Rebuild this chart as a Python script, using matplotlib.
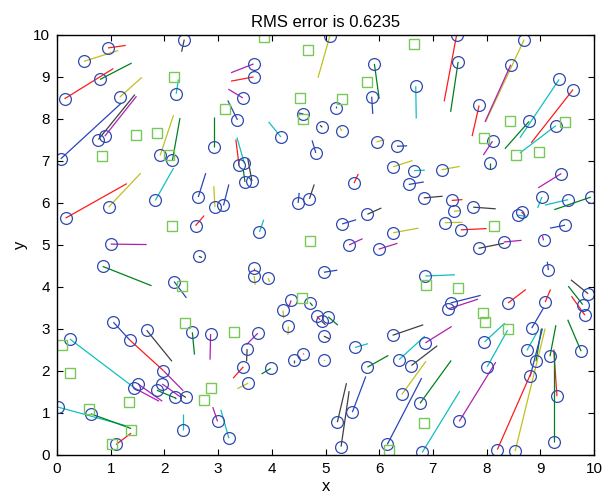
import matplotlib
matplotlib.use("Agg")
import matplotlib.pyplot as plt

plt.rcParams['font.family'] = ['Liberation Sans', 'DejaVu Sans']

# circle positions (data points) and line end points with colour codes
circle_x = [0.95, 0.50, 0.80, 0.14, 1.17, 0.07, 0.77, 0.89, 2.22, 1.92, 2.15, 2.37, 5.08, 3.66, 3.66, 3.46,
            3.36, 4.17, 4.59, 4.94, 2.93, 4.82, 3.39, 3.49, 3.63, 3.50, 5.91, 5.86, 6.68, 5.20, 5.30, 5.95,
            6.33, 6.26, 6.65, 7.16, 7.44, 7.47, 8.70, 8.45, 9.35, 9.61, 7.86, 8.79, 9.29, 8.11, 8.06,
            0.16, 0.96, 1.83, 1.00, 0.85, 2.18, 2.63, 2.94, 3.10, 2.58, 3.77, 4.49, 4.70, 2.64, 3.67,
            3.67, 3.93, 4.36, 4.71, 4.21, 5.53, 6.55, 6.83, 7.35, 7.39, 5.78, 5.31, 7.22, 6.26, 5.44,
            5.99, 4.97, 6.86, 7.33, 7.29, 9.39, 9.03, 9.52, 9.94, 7.75, 8.58, 8.65, 7.52, 9.46, 8.32,
            7.85, 9.06, 9.15, 9.89, 9.79, 9.83, 8.40, 9.09, 1.05, 1.36, 1.67, 0.24, 1.98, 1.43, 1.51,
            1.86, 1.96, 2.20, 2.40, 0.02, 0.63, 1.10, 2.35, 2.52, 2.86, 3.74, 3.54, 3.47, 3.98, 3.56,
            2.99, 3.20, 4.31, 4.42, 4.59, 4.84, 4.93, 4.97, 4.97, 5.05, 6.25, 5.55, 6.86, 6.37, 6.60,
            5.78, 6.42, 6.76, 5.50, 5.22, 5.29, 6.15, 6.80, 7.49, 7.96, 8.01, 8.84, 8.75, 8.92, 8.81,
            9.18, 9.76, 9.31, 9.25, 8.20, 8.53]
circle_y = [9.69, 9.37, 8.94, 8.48, 8.52, 7.05, 7.51, 7.59, 8.60, 7.13, 7.02, 9.89, 9.97, 9.31, 9.00, 8.50,
            7.98, 7.57, 8.12, 7.80, 7.33, 7.19, 6.90, 6.94, 6.52, 6.50, 9.31, 8.53, 8.78, 8.25, 7.71, 7.45,
            7.35, 6.86, 6.77, 6.79, 9.99, 9.36, 9.89, 9.29, 8.94, 8.70, 8.32, 7.94, 7.84, 7.47, 6.94,
            5.64, 5.90, 6.06, 5.02, 4.49, 4.13, 6.14, 5.90, 5.94, 5.46, 5.31, 6.00, 6.10, 4.73, 4.45,
            4.27, 4.21, 3.68, 3.63, 3.44, 6.47, 6.44, 6.12, 6.06, 5.80, 5.73, 5.50, 5.53, 5.29, 5.00,
            4.90, 4.35, 4.26, 3.62, 3.48, 6.70, 6.14, 6.08, 6.14, 5.90, 5.71, 5.78, 5.36, 5.47, 5.07,
            4.92, 5.11, 4.40, 3.84, 3.58, 3.33, 3.62, 3.64, 3.16, 2.73, 2.97, 2.76, 2.01, 1.60, 1.69,
            1.54, 1.69, 1.37, 1.37, 1.14, 0.98, 0.25, 0.60, 2.92, 2.88, 2.90, 2.52, 2.10, 2.06, 1.71,
            0.80, 0.40, 3.06, 2.27, 2.41, 3.30, 3.18, 2.83, 2.26, 3.29, 2.85, 2.56, 2.67, 2.27, 2.13,
            2.09, 1.44, 1.23, 1.02, 0.78, 0.20, 0.25, 0.06, 0.80, 2.69, 2.10, 3.02, 2.49, 2.23, 1.87,
            2.35, 2.47, 1.40, 0.31, 0.13, 0.09]
end_x = [1.28, 1.14, 1.39, 1.05, 1.58, 1.20, 1.45, 1.48, 2.26, 2.17, 2.29, 2.32, 4.86, 3.24, 3.24, 3.19,
         3.18, 3.94, 4.50, 4.90, 2.93, 4.75, 3.33, 3.35, 3.55, 3.47, 6.00, 5.88, 6.69, 5.20, 5.27, 6.10,
         6.52, 6.62, 6.85, 7.50, 7.21, 7.33, 7.98, 7.97, 8.62, 8.83, 7.73, 8.34, 8.62, 7.94, 8.06,
         1.30, 1.56, 2.17, 1.67, 1.76, 2.41, 2.77, 2.92, 3.20, 2.74, 3.85, 4.51, 4.79, 2.70, 3.67,
         3.69, 3.96, 4.31, 4.76, 4.22, 5.61, 6.83, 7.18, 7.55, 7.52, 6.04, 5.57, 7.55, 6.73, 5.69,
         6.34, 5.22, 7.41, 7.89, 7.84, 8.96, 8.95, 9.09, 9.26, 8.17, 8.75, 8.72, 8.00, 9.18, 8.65,
         8.32, 9.04, 9.13, 9.57, 9.52, 9.58, 8.73, 9.19, 1.36, 1.98, 2.14, 1.44, 2.35, 1.90, 1.96,
         2.20, 2.30, 2.22, 2.30, 1.33, 1.38, 1.38, 2.35, 2.56, 2.85, 3.53, 3.53, 3.28, 3.81, 3.36,
         2.90, 3.05, 4.30, 4.42, 4.59, 4.90, 5.00, 5.08, 4.99, 5.23, 6.82, 5.79, 7.35, 6.85, 7.08,
         6.17, 6.87, 7.34, 5.75, 5.39, 5.44, 6.79, 7.50, 8.17, 8.34, 8.39, 9.06, 8.93, 9.02, 9.04,
         9.29, 9.51, 9.25, 9.25, 8.84, 9.09]
end_y = [9.75, 9.63, 9.33, 9.20, 8.99, 8.38, 8.58, 8.54, 8.94, 8.09, 8.02, 9.60, 8.98, 9.10, 8.90, 8.71,
         8.44, 7.93, 8.14, 7.85, 8.04, 7.49, 7.51, 7.56, 7.07, 6.79, 8.48, 8.12, 8.01, 8.30, 7.80, 7.51,
         7.36, 7.01, 6.78, 6.87, 8.42, 8.17, 7.93, 7.93, 7.55, 7.43, 7.59, 7.29, 7.19, 7.14, 6.82,
         6.46, 6.71, 6.83, 5.01, 4.03, 3.74, 6.71, 6.40, 6.44, 5.70, 5.60, 6.24, 6.44, 4.70, 4.40,
         4.05, 4.12, 3.50, 3.55, 3.25, 6.69, 6.50, 6.16, 6.08, 5.82, 5.88, 5.60, 5.54, 5.40, 5.15,
         5.04, 4.40, 4.29, 3.80, 3.71, 6.36, 5.88, 5.95, 5.84, 5.86, 5.68, 5.70, 5.39, 5.40, 5.11,
         5.04, 5.22, 4.60, 4.17, 4.02, 3.78, 3.94, 3.94, 2.73, 2.01, 2.23, 1.60, 1.53, 1.28, 1.28,
         1.36, 1.38, 1.33, 1.45, 0.68, 0.63, 0.52, 0.98, 2.39, 2.27, 2.63, 2.23, 1.83, 1.93, 1.58,
         1.14, 1.08, 2.86, 2.20, 2.43, 3.22, 3.10, 2.76, 2.24, 3.09, 3.10, 2.65, 3.06, 2.83, 2.60,
         2.37, 2.23, 2.25, 1.87, 1.71, 1.52, 1.83, 1.52, 2.21, 3.14, 2.97, 3.50, 2.90, 3.01, 3.01,
         3.09, 3.22, 2.51, 2.47, 1.99, 3.01]
line_codes = ['r', 'y', 'g', 'r', 'y', 'b', 'k', 'm', 'c', 'y', 'g', 'k', 'y', 'm', 'r', 'm',
              'b', 'c', 'b', 'k', 'g', 'b', 'r', 'c', 'k', 'g', 'g', 'b', 'c', 'b', 'y', 'y',
              'b', 'y', 'c', 'y', 'r', 'g', 'y', 'm', 'c', 'r', 'r', 'g', 'c', 'm', 'g',
              'r', 'y', 'c', 'm', 'g', 'b', 'b', 'y', 'b', 'r', 'c', 'b', 'k', 'k', 'r',
              'y', 'y', 'm', 'g', 'y', 'r', 'b', 'k', 'r', 'y', 'k', 'b', 'y', 'y', 'm',
              'm', 'b', 'c', 'b', 'm', 'm', 'c', 'c', 'g', 'k', 'c', 'r', 'r', 'b', 'm',
              'k', 'm', 'b', 'k', 'g', 'r', 'r', 'r', 'b', 'r', 'k', 'c', 'm', 'm', 'm',
              'g', 'm', 'k', 'k', 'c', 'g', 'r', 'c', 'g', 'm', 'm', 'k', 'r', 'g', 'y',
              'm', 'c', 'y', 'k', 'r', 'r', 'k', 'k', 'y', 'g', 'k', 'c', 'm', 'c', 'k',
              'g', 'y', 'g', 'b', 'k', 'k', 'b', 'c', 'm', 'c', 'c', 'b', 'c', 'g', 'b',
              'g', 'g', 'r', 'g', 'r', 'y']

square_x = [1.47, 1.87, 0.83, 2.17, 2.09, 3.86, 4.67, 3.12, 4.53, 4.59, 6.64, 5.78, 5.31, 8.44, 9.46,
            7.96, 8.54, 8.98, 2.15, 2.32, 4.72, 4.57, 6.87, 7.46, 8.14, 0.09, 0.25, 2.38, 1.35, 0.60,
            1.38, 1.02, 3.29, 2.87, 2.74, 6.18, 6.84, 7.94, 7.97, 8.39]
square_y = [7.61, 7.67, 7.11, 8.99, 7.15, 9.94, 9.63, 8.24, 8.49, 8.01, 9.79, 8.88, 8.48, 7.94, 7.92,
            7.55, 7.14, 7.21, 5.44, 4.02, 5.09, 3.74, 4.05, 3.98, 5.44, 2.61, 1.95, 3.14, 1.26, 1.10,
            0.60, 0.26, 2.92, 1.60, 1.32, 0.13, 0.76, 3.38, 3.17, 2.99]

title_text = "RMS error is 0.6235"
ticks = list(range(0, 11))

color_map = {'b': '#2a45b8', 'g': '#008020', 'r': '#ff1a1a', 'c': '#10c0c0',
             'm': '#b020b0', 'y': '#c0c020', 'k': '#404040'}

fig = plt.figure(figsize=(6.09, 4.99), dpi=100)
ax = fig.add_axes([0.0936, 0.0882, 0.8818, 0.8418])

for cx, cy, ex, ey, c in zip(circle_x, circle_y, end_x, end_y, line_codes):
    ax.plot([cx, ex], [cy, ey], color=color_map[c], lw=0.9, solid_capstyle='butt')

ax.plot(circle_x, circle_y, 'o', ms=8.5, mfc='none', mec='#3049b0', mew=0.9, ls='none')
ax.plot(square_x, square_y, 's', ms=7.5, mfc='none', mec='#78c858', mew=1.0, ls='none')

ax.set_xlim(0, 10)
ax.set_ylim(0, 10)
ax.set_xticks(ticks)
ax.set_yticks(ticks)
ax.tick_params(direction='in', top=True, right=True, length=4, width=0.8, labelsize=11, pad=5)
for s in ax.spines.values():
    s.set_linewidth(1.0)
ax.set_title(title_text, fontsize=12, pad=6)
ax.set_xlabel('x', fontsize=12, labelpad=2)
ax.set_ylabel('y', fontsize=12, labelpad=4)

fig.savefig('out.png', dpi=100)
